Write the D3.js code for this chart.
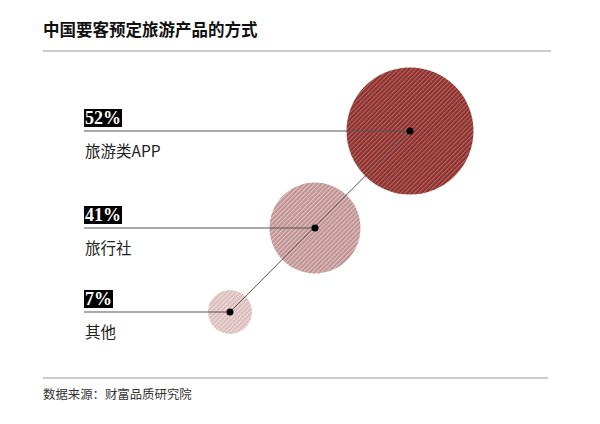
<!DOCTYPE html>
<html><head><meta charset="utf-8">
<script src="https://cdn.jsdelivr.net/npm/d3@7"></script>
<style>body{margin:0;background:#fff}svg{display:block}</style>
</head><body>
<script>
const categories = ["旅游类APP", "旅行社", "其他"];
const values = [52, 41, 7];
const valueLabels = ["52%", "41%", "7%"];
const title = "中国要客预定旅游产品的方式";
const source = "数据来源：财富品质研究院";

const W = 600, H = 424;
const svg = d3.select("body").append("svg").attr("width", W).attr("height", H);
const cjk = "'Noto Sans CJK SC', 'Noto Sans', sans-serif";

const x = d3.scaleLinear().domain([7, 41, 52]).range([230, 315, 410]);
const y = d3.scaleLinear().domain([7, 41, 52]).range([312, 228, 131]);
const r = d3.scaleLinear().domain([7, 41, 52]).range([22, 45.5, 63.5]);
const fill = d3.scaleLinear().domain([7, 41, 52]).range(["#dbbcbc", "#c09292", "#8c3030"]);
const stripe = d3.scaleLinear().domain([7, 41, 52]).range(["#efdede", "#dfc6c3", "#b4685f"]);

const defs = svg.append("defs");
values.forEach((v, i) => {
  const p = defs.append("pattern").attr("id", "pat" + i).attr("patternUnits", "userSpaceOnUse")
    .attr("width", 3.2).attr("height", 4).attr("patternTransform", "rotate(45)");
  p.append("rect").attr("width", 3.2).attr("height", 4).attr("fill", fill(v));
  p.append("rect").attr("x", 0).attr("width", 1.1).attr("height", 4).attr("fill", stripe(v));
});

svg.append("text").attr("x", 43).attr("y", 36).text(title)
  .attr("font-family", cjk).attr("font-weight", "bold").attr("font-size", 16.5).attr("fill", "#111");
svg.append("line").attr("x1", 43).attr("x2", 551).attr("y1", 51).attr("y2", 51)
  .attr("stroke", "#999").attr("stroke-width", 1.2);
svg.append("line").attr("x1", 43).attr("x2", 548).attr("y1", 378).attr("y2", 378)
  .attr("stroke", "#999").attr("stroke-width", 1.2);
svg.append("text").attr("x", 43).attr("y", 399).text(source)
  .attr("font-family", cjk).attr("font-size", 12.4).attr("fill", "#333");

const data = values.map((v, i) => ({v, c: categories[i], l: valueLabels[i], i}));

svg.selectAll("circle.b").data(data).join("circle").attr("class", "b")
  .attr("cx", d => x(d.v)).attr("cy", d => y(d.v)).attr("r", d => r(d.v))
  .attr("fill", d => `url(#pat${d.i})`);

const ext = d3.extent(values);
svg.append("line").attr("x1", x(ext[1])).attr("y1", y(ext[1])).attr("x2", x(ext[0])).attr("y2", y(ext[0]))
  .attr("stroke", "#555").attr("stroke-width", 1);

svg.selectAll("line.h").data(data).join("line").attr("class", "h")
  .attr("x1", 84).attr("x2", d => x(d.v)).attr("y1", d => y(d.v)).attr("y2", d => y(d.v))
  .attr("stroke", "#555").attr("stroke-width", 1);

svg.selectAll("circle.dot").data(data).join("circle").attr("class", "dot")
  .attr("cx", d => x(d.v)).attr("cy", d => y(d.v)).attr("r", 3.5).attr("fill", "#000");

const g = svg.selectAll("g.lab").data(data).join("g").attr("class", "lab");
g.each(function(d) {
  const s = d3.select(this);
  const cy = y(d.v);
  const t = s.append("text").attr("x", 85).attr("y", cy - 7).text(d.l)
    .attr("font-family", "'Liberation Serif', 'Times New Roman', serif").attr("font-weight", "bold")
    .attr("font-size", 18).attr("fill", "#fff");
  const bb = t.node().getBBox();
  s.insert("rect", "text").attr("x", 84).attr("y", cy - 22).attr("width", bb.width + 2).attr("height", 18).attr("fill", "#000");
  s.append("text").attr("x", 85).attr("y", cy + 26).text(d.c)
    .attr("font-family", cjk).attr("font-size", 15.5).attr("fill", "#222");
});
</script>
</body></html>
